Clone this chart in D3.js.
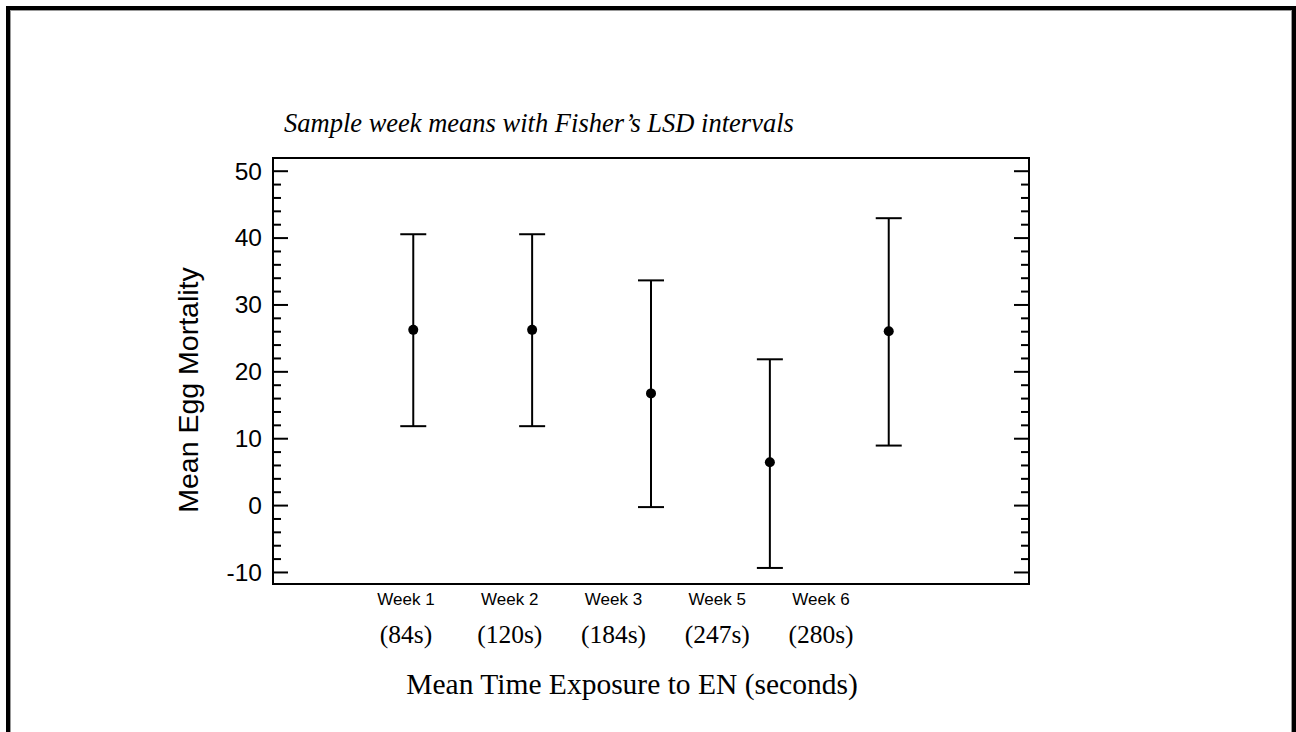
<!DOCTYPE html>
<html>
<head>
<meta charset="utf-8">
<script src="https://cdn.jsdelivr.net/npm/d3@7"></script>
<style>
  body { margin: 0; background: #fff; }
  svg { display: block; }
</style>
</head>
<body>
<svg id="chart" width="1296" height="732"></svg>
<script>
// data
var weeks = ["Week 1", "Week 2", "Week 3", "Week 5", "Week 6"];
var exposure = ["(84s)", "(120s)", "(184s)", "(247s)", "(280s)"];
var means = [26.2, 26.2, 16.7, 6.4, 26.0];
var lower = [11.8, 11.8, -0.3, -9.4, 8.9];
var upper = [40.5, 40.5, 33.6, 21.8, 42.9];
var yTicks = [-10, 0, 10, 20, 30, 40, 50];

var svg = d3.select("#chart");

// outer frame (runs off the bottom of the page)
svg.append("rect")
    .attr("x", 8).attr("y", 8)
    .attr("width", 1286).attr("height", 760)
    .attr("fill", "none")
    .attr("stroke", "#000")
    .attr("stroke-width", 4);
svg.append("rect")
    .attr("x", 10.5).attr("y", 10.5)
    .attr("width", 1281).attr("height", 760)
    .attr("fill", "none")
    .attr("stroke", "#999")
    .attr("stroke-width", 1);

var plot = {left: 273, top: 158, right: 1029, bottom: 584};

var x = d3.scalePoint()
    .domain(weeks)
    .range([plot.left, plot.right])
    .padding(1.18);

var y = d3.scaleLinear()
    .domain([-11.8, 51.9])
    .range([plot.bottom, plot.top]);

// label positions below the axis sit on their own spacing
var xl = d3.scalePoint()
    .domain(weeks)
    .range([406, 821]);

var g = svg.append("g");

// ticks, both sides, pointing inward
var minor = d3.range(-10, 51, 2).filter(function(v) { return v % 10 !== 0; });

function ticks(sel, axis) {
  sel.call(axis);
  sel.select(".domain").remove();
  sel.selectAll("line").attr("stroke-width", 2);
}

g.append("g")
    .attr("transform", "translate(" + plot.left + ",0)")
    .call(ticks, d3.axisRight(y).tickValues(minor).tickSize(8).tickFormat(""));
g.append("g")
    .attr("transform", "translate(" + plot.left + ",0)")
    .call(ticks, d3.axisRight(y).tickValues(yTicks).tickSize(15).tickFormat(""));
g.append("g")
    .attr("transform", "translate(" + plot.right + ",0)")
    .call(ticks, d3.axisLeft(y).tickValues(minor).tickSize(8).tickFormat(""));
g.append("g")
    .attr("transform", "translate(" + plot.right + ",0)")
    .call(ticks, d3.axisLeft(y).tickValues(yTicks).tickSize(15).tickFormat(""));

// y tick labels
g.selectAll(".ylab")
    .data(yTicks)
    .enter().append("text")
      .attr("class", "ylab")
      .attr("x", plot.left - 11)
      .attr("y", function(d) { return y(d); })
      .attr("dy", "0.36em")
      .attr("text-anchor", "end")
      .style("font-family", "'Liberation Sans', Arial, sans-serif")
      .style("font-size", "24.5px")
      .text(function(d) { return d; });

// plot box
g.append("rect")
    .attr("x", plot.left).attr("y", plot.top)
    .attr("width", plot.right - plot.left)
    .attr("height", plot.bottom - plot.top)
    .attr("fill", "none")
    .attr("stroke", "#000")
    .attr("stroke-width", 2);

// intervals
var bars = g.selectAll(".bar")
    .data(weeks)
    .enter().append("g")
      .attr("class", "bar");

bars.append("line")
    .attr("x1", function(d) { return x(d); })
    .attr("x2", function(d) { return x(d); })
    .attr("y1", function(d, i) { return y(upper[i]); })
    .attr("y2", function(d, i) { return y(lower[i]); })
    .attr("stroke", "#000").attr("stroke-width", 2);

bars.append("line")
    .attr("x1", function(d) { return x(d) - 13; })
    .attr("x2", function(d) { return x(d) + 13; })
    .attr("y1", function(d, i) { return y(upper[i]); })
    .attr("y2", function(d, i) { return y(upper[i]); })
    .attr("stroke", "#000").attr("stroke-width", 2);

bars.append("line")
    .attr("x1", function(d) { return x(d) - 13; })
    .attr("x2", function(d) { return x(d) + 13; })
    .attr("y1", function(d, i) { return y(lower[i]); })
    .attr("y2", function(d, i) { return y(lower[i]); })
    .attr("stroke", "#000").attr("stroke-width", 2);

bars.append("circle")
    .attr("cx", function(d) { return x(d); })
    .attr("cy", function(d, i) { return y(means[i]); })
    .attr("r", 5)
    .attr("fill", "#000");

// category labels
g.selectAll(".wk")
    .data(weeks)
    .enter().append("text")
      .attr("class", "wk")
      .attr("x", function(d) { return xl(d); })
      .attr("y", 605)
      .attr("text-anchor", "middle")
      .style("font-family", "'Liberation Sans', Arial, sans-serif")
      .style("font-size", "17px")
      .text(function(d) { return d; });

g.selectAll(".sec")
    .data(exposure)
    .enter().append("text")
      .attr("class", "sec")
      .attr("x", function(d, i) { return xl(weeks[i]); })
      .attr("y", 643)
      .attr("text-anchor", "middle")
      .style("font-family", "'Liberation Serif', 'Times New Roman', serif")
      .style("font-size", "25.5px")
      .text(function(d) { return d; });

// titles
svg.append("text")
    .attr("x", 632).attr("y", 694)
    .attr("text-anchor", "middle")
    .style("font-family", "'Liberation Serif', 'Times New Roman', serif")
    .style("font-size", "29.5px")
    .text("Mean Time Exposure to EN (seconds)");

svg.append("text")
    .attr("transform", "translate(198," + ((plot.top + plot.bottom) / 2 + 19) + ") rotate(-90)")
    .attr("text-anchor", "middle")
    .style("font-family", "'Liberation Sans', Arial, sans-serif")
    .style("font-size", "28.5px")
    .text("Mean Egg Mortality");

svg.append("text")
    .attr("x", 284).attr("y", 132)
    .style("font-family", "'Liberation Serif', 'Times New Roman', serif")
    .style("font-style", "italic")
    .style("font-size", "26.5px")
    .text("Sample week means with Fisher\u2019s LSD intervals");
</script>
</body>
</html>
